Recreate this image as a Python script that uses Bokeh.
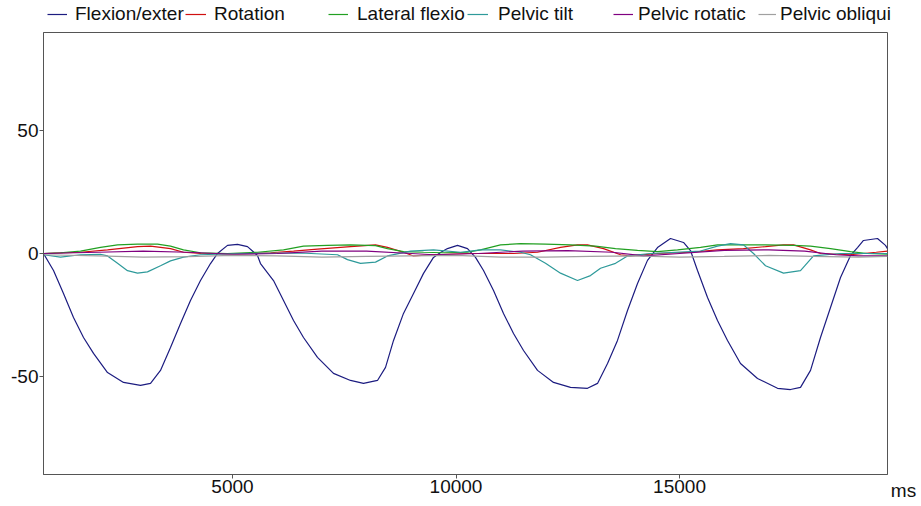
from bokeh.plotting import figure
from bokeh.models import Range1d, FixedTicker, Legend, LegendItem
from bokeh.layouts import column, row
from bokeh.embed import file_html
from bokeh.resources import INLINE

# ---------------- data (time in ms, angle in degrees) ----------------
flex_t = [772, 996, 1219, 1443, 1667, 1891, 2204, 2562, 2942, 3166, 3389, 3613, 3837, 4060, 4284, 4508,
          4664, 4888, 5112, 5335, 5559, 5626, 5917, 6141, 6365, 6588, 6901, 7259, 7640, 7930, 8243, 8423,
          8602, 8825, 9049, 9273, 9496, 9653, 9809, 10033, 10257, 10436, 10615, 10839, 11062, 11286, 11510,
          11823, 12181, 12561, 12941, 13165, 13389, 13612, 13836, 14060, 14283, 14507, 14798, 15089, 15245,
          15402, 15626, 15849, 16073, 16364, 16744, 17192, 17482, 17706, 17930, 18153, 18377, 18601, 18825,
          18981, 19115, 19428, 19607, 19652]
flex_v = [0, -6.9, -16.3, -26.1, -34.2, -40.7, -48.5, -52.5, -53.7, -52.9, -47.6, -38.3, -28.5, -19.1, -11.0, -4.1,
          0, 3.3, 3.7, 2.8, -0.8, -4.1, -11.0, -19.1, -27.3, -34.2, -42.3, -48.8, -51.7, -52.9, -51.7, -46.4,
          -35.4, -24.4, -16.3, -8.1, -1.6, 0.4, 2.0, 3.3, 2.0, -1.6, -6.9, -15.1, -24.4, -32.6, -39.5,
          -47.6, -52.5, -54.5, -54.9, -52.9, -44.8, -35.4, -23.2, -12.2, -2.8, 2.4, 6.1, 4.5, 1.2,
          -6.9, -17.9, -27.3, -35.4, -44.8, -50.9, -54.9, -55.4, -54.5, -47.6, -34.2, -22.0, -9.8, -0.8,
          2.4, 5.3, 6.1, 3.3, 2.0]

rot_t = [772, 1600, 2204, 2875, 3166, 3613, 3904, 4284, 5112, 5850, 6365, 6901, 7640, 8199, 8467, 8825, 9049,
         9496, 10257, 11286, 11823, 12337, 12717, 12941, 13300, 13680, 13900, 14500, 15245, 15849, 16431,
         16923, 17326, 17550, 17930, 18153, 18825, 19400, 19652]
rot_v = [0, 0.5, 1.5, 2.8, 3.0, 2.0, 0.5, 0, -0.2, 0.3, 1.0, 1.8, 2.8, 3.5, 2.5, 0.5, -1.0,
         -0.5, 0, 0, 0.5, 2.5, 3.5, 3.5, 2.0, -0.5, -1.0, 0, 0.5, 1.5, 2.0,
         2.8, 3.5, 3.5, 1.5, 0, -0.5, 0.5, 1.0]

lat_t = [772, 1152, 1600, 2047, 2428, 2875, 3322, 3613, 3904, 4284, 4888, 5559, 6141, 6588, 7125, 7640, 8199,
         8467, 8825, 9273, 9720, 10257, 10548, 10995, 11443, 12002, 12561, 13120, 13568, 14060, 14507, 14954,
         15469, 15849, 16431, 16923, 17550, 17930, 18377, 18825, 19200, 19652]
lat_v = [0, 0.3, 1.0, 2.5, 3.5, 3.8, 3.8, 3.0, 1.5, 0.3, 0, 0.5, 1.5, 3.0, 3.3, 3.5, 3.2,
         2.0, 0.8, 0.5, 0.3, 0.5, 1.5, 3.5, 4.0, 3.8, 3.5, 3.0, 2.0, 1.3, 0.8, 1.5,
         2.5, 3.5, 3.5, 3.5, 3.3, 3.0, 2.0, 0.8, 0, -0.3]

tilt_t = [772, 1152, 1600, 2047, 2204, 2428, 2651, 2875, 3098, 3389, 3613, 3904, 4284, 5179, 6521, 7349, 7572,
          7863, 8199, 8467, 8982, 9496, 10100, 10548, 10995, 11443, 11666, 12002, 12337, 12717, 13008, 13232,
          13568, 13836, 14350, 15469, 15849, 16140, 16431, 16655, 16923, 17326, 17706, 17997, 18601, 19652]
tilt_v = [-0.5, -1.5, -0.5, -0.3, -1.0, -4.0, -7.0, -8.0, -7.5, -5.0, -3.0, -1.5, -0.5, 0, 0.2, -0.5, -2.5,
          -4.0, -3.5, -1.0, 1.0, 1.5, 0.5, 1.5, 1.5, 0.5, -0.5, -4.0, -8.0, -11.0, -9.0, -6.0,
          -4.0, -1.0, 0, 1.0, 3.0, 4.0, 3.5, 0, -5.0, -8.0, -7.0, -1.0, 0, 0]

prot_t = [772, 2000, 3000, 4000, 5000, 6000, 7000, 8000, 9000, 9500, 10500, 11500, 12500, 13500, 14200,
          15000, 16000, 17000, 17800, 18500, 19000, 19652]
prot_v = [0, 0.5, 1.0, 0.5, -0.3, 0, 1.0, 1.0, 0, -0.5, 0, 1.0, 1.2, 0.5, -1.0,
          0, 1.3, 1.5, 1.0, -0.5, -1.0, -1.0]

obl_t = [772, 2000, 3000, 4000, 5000, 6000, 7000, 8000, 9000, 10000, 11000, 12000, 13000, 14000, 15000,
         16000, 17000, 18000, 19000, 19652]
obl_v = [-0.5, -1.0, -1.5, -1.3, -0.8, -1.0, -1.5, -1.2, -1.0, -0.8, -1.5, -1.5, -1.2, -1.0, -1.5,
         -1.2, -0.8, -1.2, -1.5, -1.2]

series_names = ["Flexion/exter", "Rotation", "Lateral flexio", "Pelvic tilt", "Pelvic rotatic", "Pelvic obliqui"]
series_colors = ["#1c1c80", "#d01010", "#22a022", "#2e9a9a", "#800080", "#a0a0a0"]
series_data = [(flex_t, flex_v), (rot_t, rot_v), (lat_t, lat_v), (tilt_t, tilt_v), (prot_t, prot_v), (obl_t, obl_v)]

x_ticks = [5000, 10000, 15000]
y_ticks = [-50, 0, 50]
y_tick_labels = {-50: "-50", 0: "0", 50: "50"}
x_unit = "ms"
y_min, y_max = -90, 90
x_min, x_max = 772, 19652

FONT = "Liberation Sans"
TXT = "#111111"
AXC = "#555555"


def style_axis(ax):
    ax.axis_line_color = AXC
    ax.major_tick_line_color = AXC
    ax.major_tick_out = 4
    ax.major_tick_in = 0
    ax.minor_tick_out = 0
    ax.minor_tick_in = 0
    ax.major_label_text_font = FONT
    ax.major_label_text_font_size = "19px"
    ax.major_label_text_color = TXT
    ax.major_label_standoff = 1


# ---------------- main chart ----------------
p = figure(width=890, height=475, output_backend="svg", toolbar_location=None, title=None,
           x_range=Range1d(x_min, x_max), y_range=Range1d(y_min, y_max),
           min_border_left=43, min_border_right=3, min_border_top=1, min_border_bottom=32)
p.background_fill_color = "white"
p.border_fill_color = "white"
p.grid.visible = False
p.outline_line_color = AXC
p.outline_line_width = 1
style_axis(p.xaxis[0])
style_axis(p.yaxis[0])
p.xaxis[0].ticker = FixedTicker(ticks=x_ticks)
p.yaxis[0].ticker = FixedTicker(ticks=y_ticks)
p.yaxis[0].major_label_overrides = y_tick_labels

for (t, v), c in zip(series_data, series_colors):
    p.line(t, v, line_color=c, line_width=1.2)

# ---------------- legend strip above the chart ----------------
lg_fig = figure(width=921, height=31, output_backend="svg", toolbar_location=None, title=None,
                x_range=Range1d(0, 1), y_range=Range1d(0, 1), x_axis_location=None, y_axis_location=None,
                min_border_left=0, min_border_right=0, min_border_top=0, min_border_bottom=0)
lg_fig.grid.visible = False
lg_fig.outline_line_color = None
lg_fig.background_fill_color = "white"
lg_fig.border_fill_color = "white"

leg_x = [47, 185, 328, 467, 613, 758]
leg_gw = [20, 21, 20, 21, 20, 18]
leg_so = [8, 8, 9, 10, 5, 4]
for name, (t, v), c, lx, gw, so in zip(series_names, series_data, series_colors, leg_x, leg_gw, leg_so):
    # same series, drawn outside this strip's view: only its legend sample shows
    r = lg_fig.line(t, v, line_color=c, line_width=1.2)
    lg = Legend(items=[LegendItem(label=name, renderers=[r])], location=(lx, 6),
                orientation="horizontal", padding=0, margin=0, spacing=0,
                glyph_width=gw, glyph_height=20, label_height=20, label_standoff=so,
                border_line_color=None, background_fill_alpha=0,
                label_text_font=FONT, label_text_font_size="19px", label_text_color=TXT)
    lg_fig.add_layout(lg, "center")

# ---------------- unit label to the right of the x axis ----------------
ms_fig = figure(width=31, height=475, output_backend="svg", toolbar_location=None, title=None,
                x_range=Range1d(0, 31), y_range=Range1d(y_min, y_max), y_axis_location=None,
                min_border_left=0, min_border_right=0, min_border_top=1, min_border_bottom=32)
ms_fig.grid.visible = False
ms_fig.outline_line_color = None
ms_fig.background_fill_color = "white"
ms_fig.border_fill_color = "white"
style_axis(ms_fig.xaxis[0])
ms_fig.xaxis[0].ticker = FixedTicker(ticks=[13])
ms_fig.xaxis[0].major_label_overrides = {13: x_unit}
ms_fig.xaxis[0].axis_line_color = None
ms_fig.xaxis[0].major_tick_line_color = None

layout = column(lg_fig, row(p, ms_fig, spacing=0), spacing=0)

open("out.html", "w").write(file_html(layout, INLINE))
